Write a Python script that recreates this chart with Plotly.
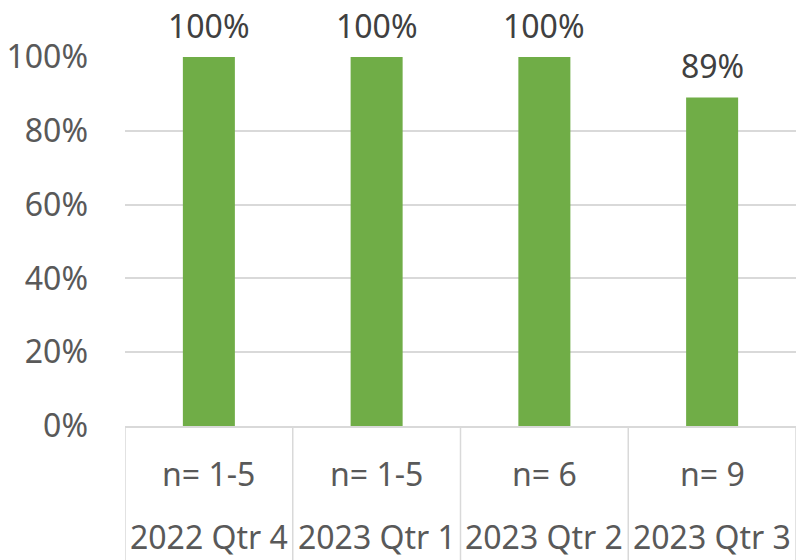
import plotly.graph_objects as go

quarters = ["2022 Qtr 4", "2023 Qtr 1", "2023 Qtr 2", "2023 Qtr 3"]
n_labels = ["n= 1-5", "n= 1-5", "n= 6", "n= 9"]
values = [1.00, 1.00, 1.00, 0.89]
y_ticks = [0, 0.2, 0.4, 0.6, 0.8, 1.0]
y_tick_text = ["0%", "20%", "40%", "60%", "80%", "100%"]

FONT = "Noto Sans"
GRID = "#D9D9D9"
FS = 32

fig = go.Figure(go.Bar(
    x=quarters, y=values,
    marker=dict(color="#70AD47", line=dict(width=0)),
    cliponaxis=False,
))

annotations = []
for q, v in zip(quarters, values):
    annotations.append(dict(x=q, xref="x", y=v, yref="y", yshift=32,
                            text=f"{v:.0%}", showarrow=False, yanchor="middle",
                            font=dict(family=FONT, size=FS, color="#404040")))
for q, n in zip(quarters, n_labels):
    annotations.append(dict(x=q, xref="x", y=0, yref="paper", yshift=-47,
                            text=n, showarrow=False, yanchor="middle",
                            font=dict(family=FONT, size=FS, color="#595959")))
    annotations.append(dict(x=q, xref="x", y=0, yref="paper", yshift=-110,
                            text=q, showarrow=False, yanchor="middle",
                            font=dict(family=FONT, size=FS, color="#595959")))

shapes = []
for i in range(len(quarters) + 1):
    shapes.append(dict(type="line", xref="x", yref="paper",
                       x0=i - 0.5, x1=i - 0.5, y0=0, y1=-0.37,
                       line=dict(color=GRID, width=1.5)))

fig.update_layout(
    width=796, height=560,
    margin=dict(l=125, r=0, t=57, b=134),
    paper_bgcolor="white", plot_bgcolor="white",
    bargap=0.69,
    showlegend=False,
    annotations=annotations,
    shapes=shapes,
    xaxis=dict(showticklabels=False, showgrid=False, showline=True,
               linecolor=GRID, linewidth=1.5, ticks="",
               range=[-0.5, 3.5]),
    yaxis=dict(range=[0, 1], tickvals=y_ticks, ticktext=y_tick_text,
               showgrid=True, gridcolor=GRID, gridwidth=1.5,
               zeroline=False, showline=False, ticks="",
               ticklabelstandoff=36,
               tickfont=dict(family=FONT, size=FS, color="#595959")),
)

fig.write_html("out.html",
               config={"displayModeBar": False},
               post_script="document.body.style.margin='0';document.body.style.overflow='hidden';")
